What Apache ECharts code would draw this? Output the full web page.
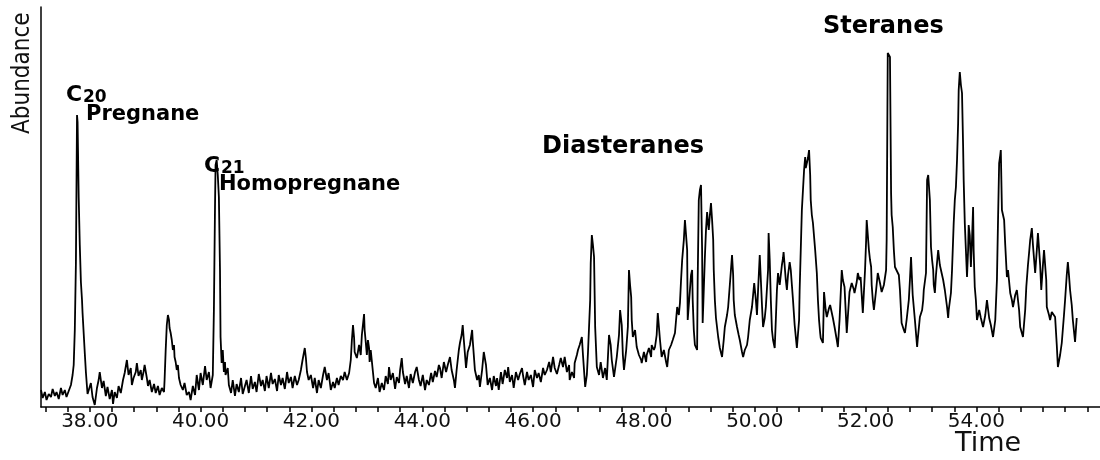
<!DOCTYPE html>
<html>
<head>
<meta charset="utf-8">
<title>Chromatogram</title>
<script src="https://cdn.jsdelivr.net/npm/echarts@6/dist/echarts.min.js"></script>
<style>
  html, body { margin: 0; padding: 0; background: #fff; }
  #chart { width: 1100px; height: 460px; }
</style>
</head>
<body>
<div id="chart"></div>
<script>
// retention time (min)
var retentionTime = [
  37.12, 37.15, 37.19, 37.22, 37.26, 37.30, 37.33, 37.37, 37.40, 37.44, 37.48, 37.51, 37.55, 37.58, 37.62, 37.66,
  37.69, 37.71, 37.73, 37.75, 37.77, 37.78, 37.80, 37.82, 37.84, 37.86, 37.87, 37.89, 37.91, 37.93, 37.95, 37.96, 37.98,
  38.02, 38.05, 38.09, 38.13, 38.16, 38.18, 38.22, 38.25, 38.29, 38.32, 38.36, 38.40, 38.42, 38.45, 38.49, 38.52, 38.56,
  38.60, 38.63, 38.67, 38.70, 38.74, 38.76, 38.79, 38.83, 38.85, 38.88, 38.92, 38.94, 38.97, 38.99,
  39.03, 39.05, 39.08, 39.12, 39.16, 39.19, 39.23, 39.26, 39.30, 39.34, 39.35, 39.37, 39.39, 39.41, 39.43, 39.44, 39.46,
  39.48, 39.50, 39.52, 39.53, 39.55, 39.57, 39.59, 39.61, 39.64, 39.68, 39.71, 39.75, 39.79, 39.82, 39.86, 39.90, 39.93, 39.97,
  40.00, 40.04, 40.08, 40.11, 40.15, 40.18, 40.22, 40.24, 40.26, 40.27, 40.29, 40.31, 40.33, 40.35, 40.36, 40.38, 40.40,
  40.42, 40.44, 40.45, 40.49, 40.51, 40.55, 40.58, 40.62, 40.65, 40.69, 40.73, 40.76, 40.80, 40.83, 40.87, 40.91, 40.94, 40.98,
  41.01, 41.05, 41.09, 41.12, 41.16, 41.19, 41.23, 41.27, 41.30, 41.34, 41.38, 41.41, 41.45, 41.48, 41.52, 41.56, 41.59,
  41.63, 41.66, 41.70, 41.74, 41.77, 41.81, 41.84, 41.88, 41.90, 41.92, 41.95, 41.99,
  42.03, 42.06, 42.10, 42.13, 42.17, 42.21, 42.24, 42.28, 42.31, 42.35, 42.39, 42.42, 42.46, 42.49, 42.53, 42.57, 42.60,
  42.64, 42.68, 42.71, 42.73, 42.75, 42.77, 42.78, 42.82, 42.86, 42.89, 42.91, 42.95, 42.96, 42.98,
  43.00, 43.02, 43.04, 43.05, 43.07, 43.11, 43.13, 43.16, 43.20, 43.23, 43.27, 43.31, 43.34, 43.38, 43.40, 43.43, 43.47,
  43.51, 43.54, 43.58, 43.60, 43.63, 43.65, 43.69, 43.72, 43.76, 43.79, 43.83, 43.87, 43.90, 43.94, 43.97,
  44.01, 44.05, 44.08, 44.12, 44.16, 44.19, 44.23, 44.26, 44.30, 44.32, 44.35, 44.39, 44.43, 44.46, 44.50, 44.53, 44.57,
  44.59, 44.62, 44.66, 44.68, 44.71, 44.73, 44.75, 44.79, 44.82, 44.86, 44.90, 44.91, 44.95, 44.99,
  45.02, 45.04, 45.08, 45.11, 45.15, 45.18, 45.22, 45.26, 45.29, 45.33, 45.35, 45.38, 45.42, 45.45, 45.49, 45.53, 45.55,
  45.58, 45.62, 45.65, 45.69, 45.73, 45.76, 45.80, 45.82, 45.85, 45.89, 45.92, 45.96,
  46.00, 46.03, 46.07, 46.10, 46.14, 46.18, 46.21, 46.25, 46.29, 46.32, 46.36, 46.39, 46.43, 46.47, 46.50, 46.54, 46.57,
  46.61, 46.65, 46.66, 46.70, 46.74, 46.75, 46.79, 46.81, 46.84, 46.88, 46.90, 46.94, 46.97, 46.99,
  47.03, 47.04, 47.06, 47.08, 47.10, 47.12, 47.15, 47.19, 47.22, 47.26, 47.30, 47.33, 47.37, 47.40, 47.42, 47.46, 47.49,
  47.51, 47.55, 47.57, 47.60, 47.62, 47.64, 47.68, 47.71, 47.73, 47.75, 47.77, 47.78, 47.80, 47.84, 47.87, 47.91, 47.95, 47.96,
  48.00, 48.04, 48.05, 48.09, 48.13, 48.14, 48.18, 48.20, 48.23, 48.25, 48.29, 48.32, 48.36, 48.40, 48.42, 48.45, 48.49,
  48.52, 48.56, 48.58, 48.60, 48.63, 48.65, 48.67, 48.69, 48.72, 48.74, 48.76, 48.78, 48.79, 48.83, 48.85, 48.87, 48.88,
  48.90, 48.92, 48.96, 48.97, 48.99,
  49.01, 49.03, 49.05, 49.06, 49.08, 49.10, 49.12, 49.14, 49.16, 49.17, 49.19, 49.21, 49.23, 49.25, 49.26, 49.28, 49.30,
  49.34, 49.37, 49.41, 49.44, 49.46, 49.50, 49.52, 49.55, 49.57, 49.59, 49.61, 49.62, 49.64, 49.68, 49.71, 49.73, 49.77,
  49.79, 49.82, 49.86, 49.88, 49.91, 49.95, 49.97, 49.99,
  50.02, 50.04, 50.06, 50.09, 50.11, 50.13, 50.15, 50.18, 50.20, 50.24, 50.25, 50.27, 50.29, 50.31, 50.33, 50.36, 50.38,
  50.40, 50.42, 50.45, 50.47, 50.49, 50.51, 50.52, 50.56, 50.58, 50.60, 50.63, 50.65, 50.67, 50.69, 50.72, 50.76, 50.80,
  50.81, 50.83, 50.85, 50.87, 50.89, 50.91, 50.92, 50.94, 50.96, 50.98,
  51.00, 51.01, 51.03, 51.05, 51.09, 51.12, 51.14, 51.16, 51.18, 51.19, 51.23, 51.25, 51.28, 51.30, 51.34, 51.36, 51.39,
  51.41, 51.44, 51.48, 51.50, 51.53, 51.57, 51.59, 51.62, 51.64, 51.66, 51.70, 51.71, 51.75, 51.79, 51.80, 51.84, 51.86,
  51.89, 51.91, 51.93, 51.95, 51.99,
  52.01, 52.02, 52.04, 52.06, 52.08, 52.10, 52.11, 52.13, 52.15, 52.19, 52.22, 52.26, 52.29, 52.33, 52.35, 52.37, 52.38,
  52.40, 52.42, 52.44, 52.46, 52.47, 52.49, 52.51, 52.53, 52.56, 52.60, 52.62, 52.65, 52.69, 52.71, 52.74, 52.78, 52.80,
  52.82, 52.83, 52.85, 52.89, 52.93, 52.94, 52.98,
  53.02, 53.04, 53.05, 53.09, 53.11, 53.13, 53.14, 53.16, 53.18, 53.20, 53.22, 53.23, 53.25, 53.27, 53.29, 53.31, 53.34,
  53.38, 53.40, 53.43, 53.47, 53.49, 53.50, 53.54, 53.56, 53.59, 53.61, 53.63, 53.65, 53.67, 53.68, 53.70, 53.72, 53.74,
  53.76, 53.77, 53.79, 53.81, 53.83, 53.85, 53.86, 53.88, 53.90, 53.92, 53.94, 53.95, 53.97, 53.99,
  54.01, 54.05, 54.08, 54.12, 54.16, 54.19, 54.23, 54.26, 54.30, 54.34, 54.37, 54.39, 54.41, 54.43, 54.44, 54.46, 54.48,
  54.50, 54.52, 54.55, 54.57, 54.61, 54.64, 54.66, 54.70, 54.73, 54.77, 54.79, 54.82, 54.84, 54.88, 54.90, 54.93, 54.95, 54.97,
  55.00, 55.02, 55.06, 55.09, 55.11, 55.15, 55.17, 55.20, 55.22, 55.26, 55.27, 55.31, 55.33, 55.36, 55.42, 55.45, 55.47,
  55.51, 55.54, 55.58, 55.60, 55.63, 55.65, 55.67, 55.69, 55.72, 55.74, 55.78, 55.81
];

// abundance (arbitrary units)
var abundance = [
  17, 9, 15, 7, 13, 10, 18, 11, 15, 8, 19, 12, 17, 10, 16, 22,
  32, 42, 77, 144, 292, 285, 210, 162, 125, 107, 94, 74, 54, 35, 20, 13, 15,
  24, 10, 2, 19, 27, 35, 19, 26, 11, 20, 8, 17, 3, 15, 9, 21, 14,
  27, 34, 47, 32, 39, 22, 29, 35, 44, 31, 37, 27, 35, 42,
  29, 21, 27, 15, 23, 14, 21, 12, 19, 15, 27, 57, 82, 92, 87, 79, 74,
  67, 57, 62, 50, 45, 37, 42, 29, 22, 17, 24, 12, 15, 7, 21, 12, 32, 17,
  34, 22, 41, 27, 35, 19, 32, 97, 200, 242, 247, 232, 210, 137, 70, 44, 57,
  35, 45, 32, 39, 22, 14, 27, 11, 23, 15, 29, 13, 21, 27, 14, 31, 18, 25,
  15, 33, 21, 27, 16, 31, 19, 34, 23, 28, 16, 32, 22, 29, 18, 35, 24,
  30, 19, 31, 22, 27, 37, 47, 59, 49, 35, 27, 32,
  19, 29, 14, 27, 19, 32, 40, 27, 34, 17, 25, 19, 29, 22, 31, 27, 35,
  27, 34, 47, 67, 82, 69, 55, 49, 62, 52, 72, 93, 77, 65,
  52, 67, 59, 45, 57, 35, 24, 19, 29, 15, 24, 17, 31, 23, 40, 27, 34,
  18, 30, 24, 37, 49, 35, 23, 31, 19, 33, 24, 35, 40, 27, 21,
  32, 17, 27, 22, 34, 25, 36, 30, 42, 39, 29, 45, 35, 42, 50, 37, 27,
  19, 37, 57, 64, 72, 82, 67, 39, 55, 62, 77, 67, 37, 27,
  32, 20, 37, 55, 42, 22, 29, 17, 31, 21, 29, 17, 35, 23, 37, 29, 40,
  25, 32, 19, 35, 27, 33, 39, 31, 22, 35, 27, 32,
  20, 37, 29, 34, 25, 39, 32, 37, 45, 35, 50, 39, 33, 42, 49, 40, 50,
  35, 42, 27, 35, 29, 44, 52, 57, 62, 70, 52, 20, 32, 54,
  107, 144, 172, 162, 150, 80, 40, 32, 45, 29, 39, 27, 72, 62, 47, 30, 42,
  50, 72, 97, 82, 52, 37, 57, 80, 137, 122, 110, 87, 70, 77, 60, 52, 47, 44,
  55, 45, 52, 59, 50, 62, 57, 60, 72, 94, 67, 50, 57, 45, 40, 57, 62,
  67, 74, 87, 100, 92, 104, 127, 147, 167, 187, 172, 157, 87, 117, 132, 137, 107,
  77, 62, 57, 127, 207,
  217, 222, 157, 84, 117, 150, 177, 195, 182, 177, 192, 204, 187, 167, 137, 107, 89,
  70, 59, 50, 67, 80, 92, 100, 122, 137, 152, 132, 107, 92, 80, 72, 67, 55,
  50, 57, 62, 70, 87, 100, 112, 124,
  107, 92, 117, 152, 127, 102, 80, 89, 100, 137, 174, 147, 107, 77, 67, 59, 87,
  117, 134, 122, 124, 142, 149, 155, 127, 117, 132, 145, 137, 122, 107, 82, 59, 87,
  117, 157, 197, 217, 237, 250, 239, 237, 249, 257,
  232, 207, 192, 184, 157, 134, 107, 87, 74, 69, 64, 115, 97, 90, 99, 102, 104,
  89, 80, 67, 60, 87, 137, 127, 120, 97, 74, 107, 115, 124, 117, 114, 125, 134,
  127, 130, 112, 94, 137,
  167, 187, 172, 157, 147, 140, 122, 107, 97, 117, 134, 124, 115, 122, 120, 137, 167,
  354, 352, 350, 214, 192, 180, 157, 140, 142, 132, 117, 84, 77, 74, 87, 107, 127,
  150, 137, 112, 87, 60, 67, 90,
  97, 107, 117, 134, 227, 232, 234, 207, 160, 147, 137, 122, 114, 132, 145, 157, 142,
  132, 127, 117, 100, 89, 97, 114, 137, 184, 207, 220, 247, 284, 317, 335, 322, 314,
  260, 227, 184, 157, 130, 157, 182, 172, 140, 167, 200, 157, 120, 107,
  87, 97, 89, 80, 92, 107, 89, 82, 70, 87, 127, 187, 244, 252, 257, 197, 192,
  187, 162, 130, 137, 114, 107, 100, 112, 117, 97, 80, 74, 70, 97, 120, 142, 154, 167,
  179, 162, 134, 157, 174, 142, 117, 142, 157, 127, 100, 92, 87, 95, 90, 62, 40,
  52, 64, 92, 107, 132, 145, 132, 117, 102, 87, 65, 89
];

// axis ticks and labels
var tickStart = 37.2, tickStep = 0.4, tickCount = 48;
var labelValues = [38, 40, 42, 44, 46, 48, 50, 52, 54];

var tickValues = [];
for (var i = 0; i < tickCount; i++) {
  tickValues.push(Math.round((tickStart + tickStep * i) * 10) / 10);
}

var points = retentionTime.map(function (t, i) {
  return [t, abundance[i]];
});

var boldFont = 'bold 21px "DejaVu Sans", sans-serif';

var myChart = echarts.init(document.getElementById('chart'));
myChart.setOption({
  backgroundColor: '#fff',
  animation: false,
  grid: { left: 41, right: 0, top: 7, bottom: 53, outerBoundsMode: 'none' },
  xAxis: {
    type: 'value',
    min: 37.12,
    max: 56.23,
    axisLine: { show: true, onZero: false, lineStyle: { color: '#000', width: 1.5 } },
    axisTick: { show: true, customValues: tickValues, length: 5, lineStyle: { color: '#000', width: 1.5 } },
    axisLabel: {
      customValues: labelValues,
      margin: 5,
      color: '#111',
      fontSize: 20,
      fontFamily: 'DejaVu Sans',
      formatter: function (v) { return v.toFixed(2); }
    },
    splitLine: { show: false }
  },
  yAxis: {
    type: 'value',
    min: 0,
    max: 400,
    axisLine: { show: true, lineStyle: { color: '#000', width: 1.5 } },
    axisTick: { show: false },
    axisLabel: { show: false },
    splitLine: { show: false }
  },
  series: [{
    type: 'line',
    data: points,
    symbol: 'none',
    lineStyle: { color: '#000', width: 1.8 }
  }],
  graphic: [
    { type: 'text', x: 35, y: 134, rotation: Math.PI / 2,
      style: { text: 'Abundance', font: '24px "DejaVu Sans Condensed", "Liberation Sans Narrow", sans-serif', fill: '#111', align: 'left', verticalAlign: 'bottom' } },
    { type: 'text', x: 955, y: 444,
      style: { text: 'Time', font: '27px "DejaVu Sans", sans-serif', fill: '#111', align: 'left', verticalAlign: 'middle' } },
    { type: 'text', x: 66, y: 95,
      style: { text: 'C', font: 'bold 22px "DejaVu Sans", sans-serif', fill: '#000', align: 'left', verticalAlign: 'middle' } },
    { type: 'text', x: 83, y: 98,
      style: { text: '20', font: 'bold 17px "DejaVu Sans", sans-serif', fill: '#000', align: 'left', verticalAlign: 'middle' } },
    { type: 'text', x: 86, y: 115,
      style: { text: 'Pregnane', font: boldFont, fill: '#000', align: 'left', verticalAlign: 'middle' } },
    { type: 'text', x: 204, y: 166,
      style: { text: 'C', font: 'bold 22px "DejaVu Sans", sans-serif', fill: '#000', align: 'left', verticalAlign: 'middle' } },
    { type: 'text', x: 221, y: 169,
      style: { text: '21', font: 'bold 17px "DejaVu Sans", sans-serif', fill: '#000', align: 'left', verticalAlign: 'middle' } },
    { type: 'text', x: 219, y: 185,
      style: { text: 'Homopregnane', font: boldFont, fill: '#000', align: 'left', verticalAlign: 'middle' } },
    { type: 'text', x: 542, y: 147,
      style: { text: 'Diasteranes', font: 'bold 24px "DejaVu Sans", sans-serif', fill: '#000', align: 'left', verticalAlign: 'middle' } },
    { type: 'text', x: 823, y: 27,
      style: { text: 'Steranes', font: 'bold 24px "DejaVu Sans", sans-serif', fill: '#000', align: 'left', verticalAlign: 'middle' } }
  ]
});
</script>
</body>
</html>
